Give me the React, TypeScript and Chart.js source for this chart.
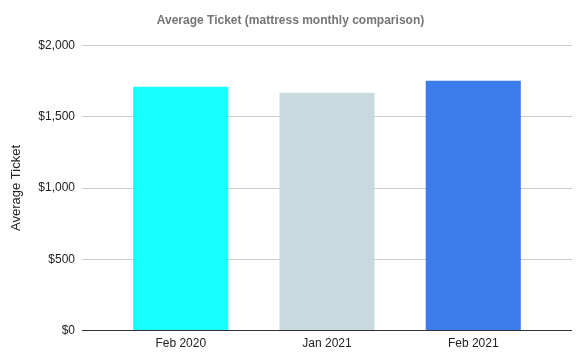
import React, { useEffect, useRef } from "react";
import { Chart, registerables } from "chart.js";

Chart.register(...registerables);

const months = ["Feb 2020", "Jan 2021", "Feb 2021"];
const avgTicket = [1710, 1668, 1752];
const barColors = ["#18ffff", "#c9dadf", "#3c7bea"];
const yTicks = [0, 500, 1000, 1500, 2000];
const titleText = "Average Ticket (mattress monthly comparison)";
const yTitle = "Average Ticket";

const FONT = "'Liberation Sans', Arial, sans-serif";

export default function App() {
  const ref = useRef<HTMLCanvasElement | null>(null);
  useEffect(() => {
    if (!ref.current) return;
    const chart = new Chart(ref.current, {
      type: "bar",
      data: {
        datasets: [
          {
            data: months.map((_, i) => ({ x: i, y: avgTicket[i] })),
            backgroundColor: barColors,
            borderWidth: 0,
            categoryPercentage: 1,
            barPercentage: 0.65,
          },
        ],
      },
      options: {
        animation: false,
        responsive: false,
        layout: { padding: { left: 9, right: 14, top: 0, bottom: 3 } },
        plugins: {
          legend: { display: false },
          tooltip: { enabled: false },
          title: {
            display: true,
            text: titleText,
            color: "#757575",
            font: { family: FONT, size: 12, weight: "bold" },
            padding: { top: 13, bottom: 18 },
          },
        },
        scales: {
          x: {
            type: "linear",
            min: -0.675,
            max: 2.675,
            offset: false,
            grid: { display: false, drawTicks: false },
            border: { display: false },
            afterBuildTicks: (s: any) => {
              s.ticks = months.map((_, i) => ({ value: i }));
            },
            ticks: {
              color: "#222",
              font: { family: FONT, size: 12 },
              padding: 6,
              autoSkip: false,
              maxRotation: 0,
              callback: (v: any) => months[Math.round(Number(v))] ?? "",
            },
          },
          y: {
            min: 0,
            max: 2000,
            afterBuildTicks: (s: any) => {
              s.ticks = yTicks.map((v) => ({ value: v }));
            },
            afterFit: (s: any) => {
              s.width = 73;
            },
            grid: {
              drawTicks: false,
              color: (c: any) => (c.tick && c.tick.value === 0 ? "#333333" : "#cccccc"),
            },
            border: { display: false },
            ticks: {
              color: "#222",
              font: { family: FONT, size: 12 },
              padding: 7,
              callback: (v: any) => "$" + Number(v).toLocaleString("en-US"),
            },
            title: {
              display: true,
              text: yTitle,
              color: "#222",
              font: { family: FONT, size: 13 },
              padding: { top: 0, bottom: 0 },
            },
          },
        },
      },
    });
    return () => chart.destroy();
  }, []);
  return (
    <div style={{ position: "fixed", left: 0, top: 0, width: 586, height: 360, background: "#fff" }}>
      <canvas ref={ref} width={586} height={360} style={{ display: "block" }} />
    </div>
  );
}
